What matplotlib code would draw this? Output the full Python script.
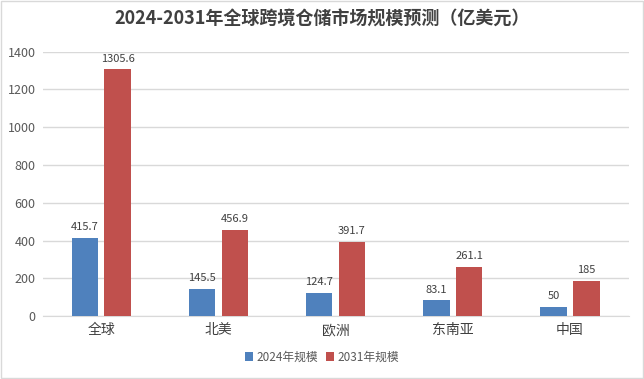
import numpy as np
import matplotlib.pyplot as plt
from matplotlib.patches import Rectangle

plt.rcParams['font.family'] = ['Noto Sans CJK SC', 'DejaVu Sans']

# 数据
regions = ['全球', '北美', '欧洲', '东南亚', '中国']
size_2024 = [415.7, 145.5, 124.7, 83.1, 50]
size_2031 = [1305.6, 456.9, 391.7, 261.1, 185]
series_names = ['2024年规模', '2031年规模']
yticks = [0, 200, 400, 600, 800, 1000, 1200, 1400]

blue = '#4f81bd'
red = '#c0504d'
text_color = '#595959'

fig = plt.figure(figsize=(6.44, 3.79), dpi=100)
ax = fig.add_axes([0.066, 0.166, 0.910, 0.698])

x = np.arange(len(regions))
w = 0.225
off = 0.14
b1 = ax.bar(x - off, size_2024, w, color=blue, label=series_names[0], zorder=3)
b2 = ax.bar(x + off, size_2031, w, color=red, label=series_names[1], zorder=3)

for bars, vals in ((b1, size_2024), (b2, size_2031)):
    for rect, v in zip(bars, vals):
        ax.text(rect.get_x() + rect.get_width() / 2, v + 30, f'{v:g}',
                ha='center', va='bottom', fontsize=8, color='#404040')

ax.set_xlim(-0.5, len(regions) - 0.5)
ax.set_ylim(0, 1400)
ax.set_yticks(yticks)
ax.set_xticks(x)
ax.set_xticklabels(regions, fontsize=10, color='#404040')
ax.tick_params(axis='y', labelsize=9, colors=text_color, length=0, pad=5)
ax.tick_params(axis='x', length=0, pad=5)
ax.grid(axis='y', color='#d9d9d9', linewidth=1, zorder=0)
for s in ['top', 'right', 'left']:
    ax.spines[s].set_visible(False)
ax.spines['bottom'].set_color('#d9d9d9')

fig.suptitle('2024-2031年全球跨境仓储市场规模预测（亿美元）', y=0.975,
             fontsize=13, fontweight='bold', color='#404040')

fig.legend(loc='center', bbox_to_anchor=(0.5, 0.058), ncol=2, frameon=False,
           fontsize=8.5, handlelength=0.7, handleheight=0.7, handletextpad=0.3,
           columnspacing=0.6, labelcolor='#595959')

# 外框
fig.patches.append(Rectangle((0.002, 0.003), 0.996, 0.994, transform=fig.transFigure,
                             fill=False, edgecolor='#d9d9d9', linewidth=1))

fig.savefig('out.png', dpi=100)
